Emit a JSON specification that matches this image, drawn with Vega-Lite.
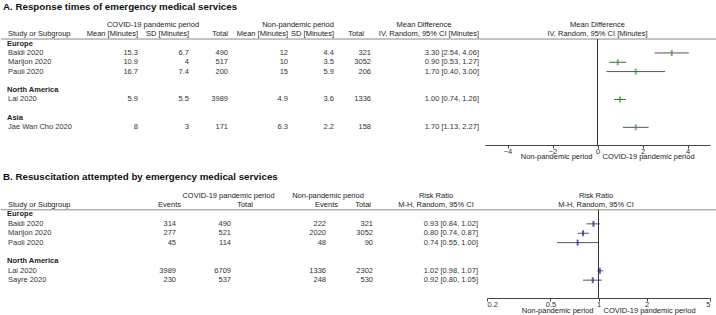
{
"$schema":"https://vega.github.io/schema/vega-lite/v6.json",
"padding":0,
"background":"white",
"config":{"view":{"stroke":null},"axisY":{"disable":true},"text":{"font":"Liberation Sans","fontSize":7.5,"color":"#333","baseline":"middle"},"axis":{"labelFont":"Liberation Sans","labelFontSize":7.5,"labelColor":"#333","domainColor":"#444","tickColor":"#444","grid":false,"tickSize":3,"labelPadding":-1,"labelBaseline":"top"}},
"datasets":{
"A_rows":[
{"row":1,"study":"Baldi 2020","mean_c":15.3,"sd_c":6.7,"total_c":490,"mean_n":12,"sd_n":4.4,"total_n":321,"md":3.30,"lo":2.54,"hi":4.06,"ci":"3.30 [2.54, 4.06]"},
{"row":2,"study":"Marijon 2020","mean_c":10.9,"sd_c":4,"total_c":517,"mean_n":10,"sd_n":3.5,"total_n":3052,"md":0.90,"lo":0.53,"hi":1.27,"ci":"0.90 [0.53, 1.27]"},
{"row":3,"study":"Paoli 2020","mean_c":16.7,"sd_c":7.4,"total_c":200,"mean_n":15,"sd_n":5.9,"total_n":206,"md":1.70,"lo":0.40,"hi":3.00,"ci":"1.70 [0.40, 3.00]"},
{"row":6,"study":"Lai 2020","mean_c":5.9,"sd_c":5.5,"total_c":3989,"mean_n":4.9,"sd_n":3.6,"total_n":1336,"md":1.00,"lo":0.74,"hi":1.26,"ci":"1.00 [0.74, 1.26]"},
{"row":9,"study":"Jae Wan Cho 2020","mean_c":8,"sd_c":3,"total_c":171,"mean_n":6.3,"sd_n":2.2,"total_n":158,"md":1.70,"lo":1.13,"hi":2.27,"ci":"1.70 [1.13, 2.27]"}
],
"A_groups":[{"row":0,"label":"Europe"},{"row":5,"label":"North America"},{"row":8,"label":"Asia"}],
"A_head":[
{"col":"title","row":-4,"text":"A. Response times of emergency medical services"},
{"col":"study","row":-1,"text":"Study or Subgroup"},
{"col":"mean_c","row":-1,"text":"Mean [Minutes]"},
{"col":"grp_c","row":-2,"text":"COVID-19 pandemic period"},
{"col":"sd_c","row":-1,"text":"SD [Minutes]"},
{"col":"total_c","row":-1,"text":"Total"},
{"col":"mean_n","row":-1,"text":"Mean [Minutes]"},
{"col":"grp_n","row":-2,"text":"Non-pandemic period"},
{"col":"sd_n","row":-1,"text":"SD [Minutes]"},
{"col":"total_n","row":-1,"text":"Total"},
{"col":"ci_grp","row":-2,"text":"Mean Difference"},
{"col":"ci","row":-1,"text":"IV, Random, 95% CI [Minutes]"},
{"col":"plot","row":-2,"text":"Mean Difference"},
{"col":"plot","row":-1,"text":"IV, Random, 95% CI [Minutes]"},
{"col":"dir_l","row":10.9,"text":"Non-pandemic period"},
{"col":"dir_r","row":10.9,"text":"COVID-19 pandemic period"}
],
"B_rows":[
{"row":1,"study":"Baldi 2020","ev_c":314,"tot_c":490,"ev_n":222,"tot_n":321,"rr":0.93,"lo":0.84,"hi":1.02,"ci":"0.93 [0.84, 1.02]"},
{"row":2,"study":"Marijon 2020","ev_c":277,"tot_c":521,"ev_n":2020,"tot_n":3052,"rr":0.80,"lo":0.74,"hi":0.87,"ci":"0.80 [0.74, 0.87]"},
{"row":3,"study":"Paoli 2020","ev_c":45,"tot_c":114,"ev_n":48,"tot_n":90,"rr":0.74,"lo":0.55,"hi":1.00,"ci":"0.74 [0.55, 1.00]"},
{"row":6,"study":"Lai 2020","ev_c":3989,"tot_c":6709,"ev_n":1336,"tot_n":2302,"rr":1.02,"lo":0.98,"hi":1.07,"ci":"1.02 [0.98, 1.07]"},
{"row":7,"study":"Sayre 2020","ev_c":230,"tot_c":537,"ev_n":248,"tot_n":530,"rr":0.92,"lo":0.80,"hi":1.05,"ci":"0.92 [0.80, 1.05]"}
],
"B_groups":[{"row":0,"label":"Europe"},{"row":5,"label":"North America"}],
"B_head":[
{"col":"title","row":-4,"text":"B. Resuscitation attempted by emergency medical services"},
{"col":"study","row":-1,"text":"Study or Subgroup"},
{"col":"grp_c","row":-2,"text":"COVID-19 pandemic period"},
{"col":"ev_c","row":-1,"text":"Events"},
{"col":"tot_c","row":-1,"text":"Total"},
{"col":"grp_n","row":-2,"text":"Non-pandemic period"},
{"col":"ev_n","row":-1,"text":"Events"},
{"col":"tot_n","row":-1,"text":"Total"},
{"col":"ci_h","row":-2,"text":"Risk Ratio"},
{"col":"ci_h","row":-1,"text":"M-H, Random, 95% CI"},
{"col":"plot","row":-2,"text":"Risk Ratio"},
{"col":"plot","row":-1,"text":"M-H, Random, 95% CI"},
{"col":"dir_l","row":8.9,"text":"Non-pandemic period"},
{"col":"dir_r","row":8.9,"text":"COVID-19 pandemic period"}
]
},
"vconcat":[
{
"bounds":"flush","spacing":0,
"hconcat":[
{"width":7,"height":145,"encoding":{"y":{"field":"row","type":"quantitative","scale":{"domain":[-4.7,10.9],"reverse":true,"nice":false,"zero":false}}},"layer":[
{"data":{"name":"A_head"},"transform":[{"filter":"datum.col==='title'"}],"mark":{"type":"text","align":"left","dx":-5,"fontSize":9.75,"fontWeight":"bold","color":"#111"},"encoding":{"x":{"value":"width"},"text":{"field":"text"}}},
{"data":{"name":"A_head"},"transform":[{"filter":"datum.col==='study'"}],"mark":{"type":"text","align":"left","color":"#222"},"encoding":{"x":{"value":"width"},"text":{"field":"text"}}},
{"data":{"name":"A_groups"},"mark":{"type":"text","align":"left","dx":-1,"fontWeight":"bold","color":"#222"},"encoding":{"x":{"value":"width"},"text":{"field":"label"}}},
{"data":{"name":"A_rows"},"mark":{"type":"text","align":"left"},"encoding":{"x":{"value":"width"},"text":{"field":"study"}}},
{"data":{"name":"A_head"},"transform":[{"filter":"datum.col==='title'"}],"mark":{"type":"rule","color":"#8a8a8a"},"encoding":{"y":{"datum":-0.5,"type":"quantitative"}}}
]},
{"width":130,"height":145,"encoding":{"y":{"field":"row","type":"quantitative","scale":{"domain":[-4.7,10.9],"reverse":true,"nice":false,"zero":false}}},"layer":[
{"data":{"name":"A_head"},"transform":[{"filter":"datum.col==='mean_c'"}],"mark":{"type":"text","align":"right","color":"#222"},"encoding":{"x":{"value":"width"},"text":{"field":"text"}}},
{"data":{"name":"A_rows"},"mark":{"type":"text","align":"right"},"encoding":{"x":{"value":"width"},"text":{"field":"mean_c","type":"nominal"}}},
{"data":{"name":"A_head"},"transform":[{"filter":"datum.col==='title'"}],"mark":{"type":"rule","color":"#8a8a8a"},"encoding":{"y":{"datum":-0.5,"type":"quantitative"}}}
]},
{"width":51,"height":145,"encoding":{"y":{"field":"row","type":"quantitative","scale":{"domain":[-4.7,10.9],"reverse":true,"nice":false,"zero":false}}},"layer":[
{"data":{"name":"A_head"},"transform":[{"filter":"datum.col==='grp_c'"}],"mark":{"type":"text","align":"center","dx":-10.5,"color":"#222"},"encoding":{"text":{"field":"text"}}},
{"data":{"name":"A_head"},"transform":[{"filter":"datum.col==='sd_c'"}],"mark":{"type":"text","align":"right","color":"#222"},"encoding":{"x":{"value":"width"},"text":{"field":"text"}}},
{"data":{"name":"A_rows"},"mark":{"type":"text","align":"right"},"encoding":{"x":{"value":"width"},"text":{"field":"sd_c","type":"nominal"}}},
{"data":{"name":"A_head"},"transform":[{"filter":"datum.col==='title'"}],"mark":{"type":"rule","color":"#8a8a8a"},"encoding":{"y":{"datum":-0.5,"type":"quantitative"}}}
]},
{"width":39,"height":145,"encoding":{"y":{"field":"row","type":"quantitative","scale":{"domain":[-4.7,10.9],"reverse":true,"nice":false,"zero":false}}},"layer":[
{"data":{"name":"A_head"},"transform":[{"filter":"datum.col==='total_c'"}],"mark":{"type":"text","align":"right","color":"#222"},"encoding":{"x":{"value":"width"},"text":{"field":"text"}}},
{"data":{"name":"A_rows"},"mark":{"type":"text","align":"right"},"encoding":{"x":{"value":"width"},"text":{"field":"total_c","type":"nominal"}}},
{"data":{"name":"A_head"},"transform":[{"filter":"datum.col==='title'"}],"mark":{"type":"rule","color":"#8a8a8a"},"encoding":{"y":{"datum":-0.5,"type":"quantitative"}}}
]},
{"width":60,"height":145,"encoding":{"y":{"field":"row","type":"quantitative","scale":{"domain":[-4.7,10.9],"reverse":true,"nice":false,"zero":false}}},"layer":[
{"data":{"name":"A_head"},"transform":[{"filter":"datum.col==='mean_n'"}],"mark":{"type":"text","align":"right","color":"#222"},"encoding":{"x":{"value":"width"},"text":{"field":"text"}}},
{"data":{"name":"A_rows"},"mark":{"type":"text","align":"right"},"encoding":{"x":{"value":"width"},"text":{"field":"mean_n","type":"nominal"}}},
{"data":{"name":"A_head"},"transform":[{"filter":"datum.col==='title'"}],"mark":{"type":"rule","color":"#8a8a8a"},"encoding":{"y":{"datum":-0.5,"type":"quantitative"}}}
]},
{"width":46,"height":145,"encoding":{"y":{"field":"row","type":"quantitative","scale":{"domain":[-4.7,10.9],"reverse":true,"nice":false,"zero":false}}},"layer":[
{"data":{"name":"A_head"},"transform":[{"filter":"datum.col==='grp_n'"}],"mark":{"type":"text","align":"center","dx":-13,"color":"#222"},"encoding":{"text":{"field":"text"}}},
{"data":{"name":"A_head"},"transform":[{"filter":"datum.col==='sd_n'"}],"mark":{"type":"text","align":"right","color":"#222"},"encoding":{"x":{"value":"width"},"text":{"field":"text"}}},
{"data":{"name":"A_rows"},"mark":{"type":"text","align":"right"},"encoding":{"x":{"value":"width"},"text":{"field":"sd_n","type":"nominal"}}},
{"data":{"name":"A_head"},"transform":[{"filter":"datum.col==='title'"}],"mark":{"type":"rule","color":"#8a8a8a"},"encoding":{"y":{"datum":-0.5,"type":"quantitative"}}}
]},
{"width":37,"height":145,"encoding":{"y":{"field":"row","type":"quantitative","scale":{"domain":[-4.7,10.9],"reverse":true,"nice":false,"zero":false}}},"layer":[
{"data":{"name":"A_head"},"transform":[{"filter":"datum.col==='total_n'"}],"mark":{"type":"text","align":"right","dx":-7,"color":"#222"},"encoding":{"x":{"value":"width"},"text":{"field":"text"}}},
{"data":{"name":"A_rows"},"mark":{"type":"text","align":"right"},"encoding":{"x":{"value":"width"},"text":{"field":"total_n","type":"nominal"}}},
{"data":{"name":"A_head"},"transform":[{"filter":"datum.col==='title'"}],"mark":{"type":"rule","color":"#8a8a8a"},"encoding":{"y":{"datum":-0.5,"type":"quantitative"}}}
]},
{"width":114,"height":145,"encoding":{"y":{"field":"row","type":"quantitative","scale":{"domain":[-4.7,10.9],"reverse":true,"nice":false,"zero":false}}},"layer":[
{"data":{"name":"A_head"},"transform":[{"filter":"datum.col==='ci_grp'"}],"mark":{"type":"text","align":"center","dx":-4,"color":"#222"},"encoding":{"text":{"field":"text"}}},
{"data":{"name":"A_head"},"transform":[{"filter":"datum.col==='ci'"}],"mark":{"type":"text","align":"right","dx":-6,"color":"#222"},"encoding":{"x":{"value":"width"},"text":{"field":"text"}}},
{"data":{"name":"A_rows"},"mark":{"type":"text","align":"right","dx":-6},"encoding":{"x":{"value":"width"},"text":{"field":"ci"}}},
{"data":{"name":"A_head"},"transform":[{"filter":"datum.col==='title'"}],"mark":{"type":"rule","color":"#8a8a8a"},"encoding":{"y":{"datum":-0.5,"type":"quantitative"}}}
]},
{"width":225,"height":145,"encoding":{"y":{"field":"row","type":"quantitative","scale":{"domain":[-4.7,10.9],"reverse":true,"nice":false,"zero":false}}},"layer":[
{"data":{"name":"A_head"},"transform":[{"filter":"datum.col==='plot'"}],"mark":{"type":"text","align":"center","color":"#222"},"encoding":{"text":{"field":"text"}}},
{"data":{"name":"A_rows"},"mark":{"type":"rule","color":"#555","strokeWidth":1},"encoding":{"x":{"field":"lo","type":"quantitative","scale":{"domain":[-5,5],"nice":false,"zero":false},"axis":{"title":null,"values":[-4,-2,0,2,4]}},"x2":{"field":"hi"}}},
{"data":{"name":"A_head"},"transform":[{"filter":"datum.col==='title'"}],"mark":{"type":"rule","color":"#8a8a8a"},"encoding":{"x":{"datum":-5,"type":"quantitative"},"x2":{"datum":5.3},"y":{"datum":-0.5,"type":"quantitative"}}},
{"data":{"name":"A_head"},"transform":[{"filter":"datum.col==='title'"}],"mark":{"type":"rule","color":"#333"},"encoding":{"x":{"datum":0,"type":"quantitative"},"y":{"datum":-0.5,"type":"quantitative"},"y2":{"datum":10.9}}},
{"data":{"name":"A_rows"},"mark":{"type":"tick","orient":"vertical","color":"#2ca02c","size":6,"thickness":2},"encoding":{"x":{"field":"md","type":"quantitative"}}},
{"data":{"name":"A_head"},"transform":[{"filter":"datum.col==='dir_l'"}],"mark":{"type":"text","align":"right","dx":-5,"dy":12,"color":"#222"},"encoding":{"x":{"datum":0,"type":"quantitative"},"text":{"field":"text"}}},
{"data":{"name":"A_head"},"transform":[{"filter":"datum.col==='dir_r'"}],"mark":{"type":"text","align":"left","dx":5,"dy":12,"color":"#222"},"encoding":{"x":{"datum":0,"type":"quantitative"},"text":{"field":"text"}}}
]}
]
},
{
"bounds":"flush","spacing":0,
"hconcat":[
{"width":7,"height":137,"encoding":{"y":{"field":"row","type":"quantitative","scale":{"domain":[-5.7,8.9],"reverse":true,"nice":false,"zero":false}}},"layer":[
{"data":{"name":"B_head"},"transform":[{"filter":"datum.col==='title'"}],"mark":{"type":"text","align":"left","dx":-5,"fontSize":9.75,"fontWeight":"bold","color":"#111"},"encoding":{"x":{"value":"width"},"text":{"field":"text"}}},
{"data":{"name":"B_head"},"transform":[{"filter":"datum.col==='study'"}],"mark":{"type":"text","align":"left","color":"#222"},"encoding":{"x":{"value":"width"},"text":{"field":"text"}}},
{"data":{"name":"B_groups"},"mark":{"type":"text","align":"left","dx":-1,"fontWeight":"bold","color":"#222"},"encoding":{"x":{"value":"width"},"text":{"field":"label"}}},
{"data":{"name":"B_rows"},"mark":{"type":"text","align":"left"},"encoding":{"x":{"value":"width"},"text":{"field":"study"}}},
{"data":{"name":"B_head"},"transform":[{"filter":"datum.col==='title'"}],"mark":{"type":"rule","color":"#8a8a8a"},"encoding":{"y":{"datum":-0.5,"type":"quantitative"}}}
]},
{"width":168,"height":137,"encoding":{"y":{"field":"row","type":"quantitative","scale":{"domain":[-5.7,8.9],"reverse":true,"nice":false,"zero":false}}},"layer":[
{"data":{"name":"B_head"},"transform":[{"filter":"datum.col==='ev_c'"}],"mark":{"type":"text","align":"right","dx":5,"color":"#222"},"encoding":{"x":{"value":"width"},"text":{"field":"text"}}},
{"data":{"name":"B_rows"},"mark":{"type":"text","align":"right"},"encoding":{"x":{"value":"width"},"text":{"field":"ev_c","type":"nominal"}}},
{"data":{"name":"B_head"},"transform":[{"filter":"datum.col==='title'"}],"mark":{"type":"rule","color":"#8a8a8a"},"encoding":{"y":{"datum":-0.5,"type":"quantitative"}}}
]},
{"width":55,"height":137,"encoding":{"y":{"field":"row","type":"quantitative","scale":{"domain":[-5.7,8.9],"reverse":true,"nice":false,"zero":false}}},"layer":[
{"data":{"name":"B_head"},"transform":[{"filter":"datum.col==='grp_c'"}],"mark":{"type":"text","align":"center","dx":25,"color":"#222"},"encoding":{"text":{"field":"text"}}},
{"data":{"name":"B_head"},"transform":[{"filter":"datum.col==='tot_c'"}],"mark":{"type":"text","align":"right","dx":22,"color":"#222"},"encoding":{"x":{"value":"width"},"text":{"field":"text"}}},
{"data":{"name":"B_rows"},"mark":{"type":"text","align":"right"},"encoding":{"x":{"value":"width"},"text":{"field":"tot_c","type":"nominal"}}},
{"data":{"name":"B_head"},"transform":[{"filter":"datum.col==='title'"}],"mark":{"type":"rule","color":"#8a8a8a"},"encoding":{"y":{"datum":-0.5,"type":"quantitative"}}}
]},
{"width":95,"height":137,"encoding":{"y":{"field":"row","type":"quantitative","scale":{"domain":[-5.7,8.9],"reverse":true,"nice":false,"zero":false}}},"layer":[
{"data":{"name":"B_head"},"transform":[{"filter":"datum.col==='ev_n'"}],"mark":{"type":"text","align":"right","dx":12,"color":"#222"},"encoding":{"x":{"value":"width"},"text":{"field":"text"}}},
{"data":{"name":"B_rows"},"mark":{"type":"text","align":"right"},"encoding":{"x":{"value":"width"},"text":{"field":"ev_n","type":"nominal"}}},
{"data":{"name":"B_head"},"transform":[{"filter":"datum.col==='title'"}],"mark":{"type":"rule","color":"#8a8a8a"},"encoding":{"y":{"datum":-0.5,"type":"quantitative"}}}
]},
{"width":47,"height":137,"encoding":{"y":{"field":"row","type":"quantitative","scale":{"domain":[-5.7,8.9],"reverse":true,"nice":false,"zero":false}}},"layer":[
{"data":{"name":"B_head"},"transform":[{"filter":"datum.col==='grp_n'"}],"mark":{"type":"text","align":"center","dx":-21.5,"color":"#222"},"encoding":{"text":{"field":"text"}}},
{"data":{"name":"B_head"},"transform":[{"filter":"datum.col==='tot_n'"}],"mark":{"type":"text","align":"right","dx":-2,"color":"#222"},"encoding":{"x":{"value":"width"},"text":{"field":"text"}}},
{"data":{"name":"B_rows"},"mark":{"type":"text","align":"right"},"encoding":{"x":{"value":"width"},"text":{"field":"tot_n","type":"nominal"}}},
{"data":{"name":"B_head"},"transform":[{"filter":"datum.col==='title'"}],"mark":{"type":"rule","color":"#8a8a8a"},"encoding":{"y":{"datum":-0.5,"type":"quantitative"}}}
]},
{"width":114,"height":137,"encoding":{"y":{"field":"row","type":"quantitative","scale":{"domain":[-5.7,8.9],"reverse":true,"nice":false,"zero":false}}},"layer":[
{"data":{"name":"B_head"},"transform":[{"filter":"datum.col==='ci_h'"}],"mark":{"type":"text","align":"center","dx":6,"color":"#222"},"encoding":{"text":{"field":"text"}}},
{"data":{"name":"B_rows"},"mark":{"type":"text","align":"right","dx":-9},"encoding":{"x":{"value":"width"},"text":{"field":"ci"}}},
{"data":{"name":"B_head"},"transform":[{"filter":"datum.col==='title'"}],"mark":{"type":"rule","color":"#8a8a8a"},"encoding":{"y":{"datum":-0.5,"type":"quantitative"}}}
]},
{"width":223,"height":137,"encoding":{"y":{"field":"row","type":"quantitative","scale":{"domain":[-5.7,8.9],"reverse":true,"nice":false,"zero":false}}},"layer":[
{"data":{"name":"B_head"},"transform":[{"filter":"datum.col==='plot'"}],"mark":{"type":"text","align":"center","dx":-2.5,"color":"#222"},"encoding":{"text":{"field":"text"}}},
{"data":{"name":"B_rows"},"mark":{"type":"rule","color":"#555","strokeWidth":1},"encoding":{"x":{"field":"lo","type":"quantitative","scale":{"type":"log","domain":[0.2,5],"nice":false},"axis":{"title":null,"values":[0.2,0.5,1,2,5],"format":"~g"}},"x2":{"field":"hi"}}},
{"data":{"name":"B_head"},"transform":[{"filter":"datum.col==='title'"}],"mark":{"type":"rule","color":"#8a8a8a"},"encoding":{"x":{"datum":0.2,"type":"quantitative"},"x2":{"datum":5.5},"y":{"datum":-0.5,"type":"quantitative"}}},
{"data":{"name":"B_head"},"transform":[{"filter":"datum.col==='title'"}],"mark":{"type":"rule","color":"#333"},"encoding":{"x":{"datum":1,"type":"quantitative"},"y":{"datum":-0.5,"type":"quantitative"},"y2":{"datum":8.9}}},
{"data":{"name":"B_rows"},"mark":{"type":"tick","orient":"vertical","color":"#1f1f8f","size":6,"thickness":2},"encoding":{"x":{"field":"rr","type":"quantitative"}}},
{"data":{"name":"B_head"},"transform":[{"filter":"datum.col==='dir_l'"}],"mark":{"type":"text","align":"right","dx":-5,"dy":13,"color":"#222"},"encoding":{"x":{"datum":1,"type":"quantitative"},"text":{"field":"text"}}},
{"data":{"name":"B_head"},"transform":[{"filter":"datum.col==='dir_r'"}],"mark":{"type":"text","align":"left","dx":5,"dy":13,"color":"#222"},"encoding":{"x":{"datum":1,"type":"quantitative"},"text":{"field":"text"}}}
]}
]
}
],
"bounds":"full",
"spacing":0
}
